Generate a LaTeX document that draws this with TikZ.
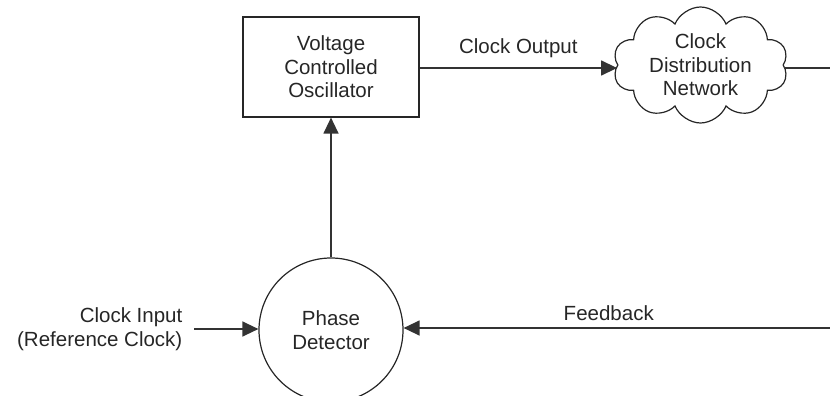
\documentclass[tikz,border=0pt]{standalone}
\usepackage{fontspec}
\setmainfont{Liberation Sans}
\usetikzlibrary{arrows.meta,shapes.symbols}
\begin{document}
\begin{tikzpicture}[x=1pt,y=-1pt,
  line width=1.3pt,
  every node/.style={font=\fontsize{20.5}{23.5}\selectfont, text=black!85},
  conn/.style={draw=black!80, -{Triangle[length=16pt,width=15pt]}},
  plain/.style={draw=black!80},
  boxnode/.style={draw=black!85, line width=1.2pt, minimum width=176pt, minimum height=100pt, align=center, inner sep=0pt},
  cloudnode/.style={cloud, cloud puffs=10, cloud puff arc=135, cloud ignores aspect, draw=black!85, line width=1.2pt, minimum width=175pt, minimum height=116pt, align=center, inner sep=0pt},
  circnode/.style={circle, draw=black!85, line width=1.2pt, minimum size=144pt, align=center, inner sep=0pt},
  lbl/.style={inner sep=0pt}
]
\useasboundingbox (0,0) rectangle (830,396);
\node[boxnode] (vco) at (331,67) {Voltage\\Controlled\\Oscillator};
\node[cloudnode] (cdn) at (700.5,65) {Clock\\Distribution\\Network};
\node[circnode] (pd) at (331,330) {Phase\\Detector};
\node[lbl, align=right, anchor=east] (cin) at (183,329) {Clock Input\\(Reference Clock)};
\coordinate (inl) at (194,329);
\coordinate (outr) at (831,68);
\coordinate (fbr) at (831,328);
\draw[conn] (pd.north) -- (vco.south);
\draw[conn] (vco.east |- 0,68) -- (cdn.west |- 0,68) node[lbl, midway, above=10pt] (co) {Clock Output};
\draw[plain] (cdn.east |- 0,68) -- (outr);
\draw[conn] (fbr) -- (pd.east |- 0,328) node[lbl, pos=0.52, above=7pt] (fb) {Feedback};
\draw[conn] (inl) -- (pd.west |- 0,329);
\end{tikzpicture}
\end{document}
